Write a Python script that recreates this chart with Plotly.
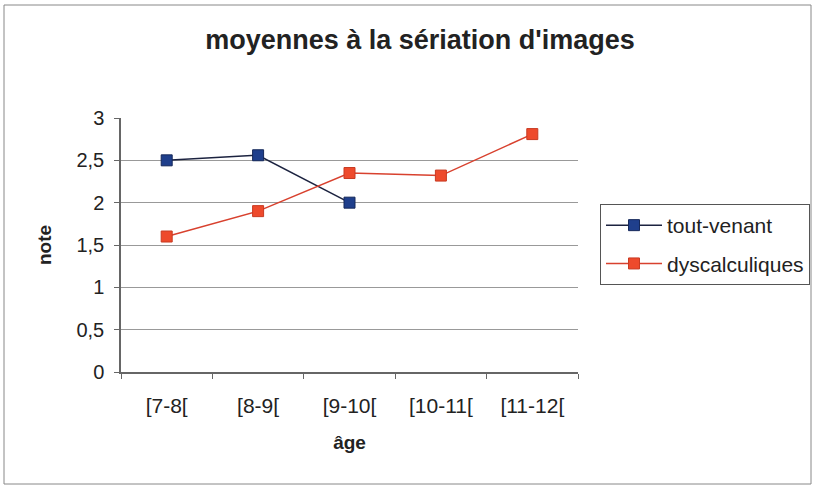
import plotly.graph_objects as go

ages = ["[7-8[", "[8-9[", "[9-10[", "[10-11[", "[11-12["]
tout_venant = [2.5, 2.56, 2.0, None, None]
dyscalculiques = [1.6, 1.9, 2.35, 2.32, 2.81]

W, H = 815, 489
L, R, T, B = 121, 237, 118, 117
pw, ph = W - L - R, H - T - B


def px_x(x):
    return (x - L) / pw


def px_y(y):
    return (H - B - y) / ph


fig = go.Figure()
fig.add_trace(go.Scatter(
    x=ages, y=tout_venant, name="tout-venant", mode="lines+markers", legendgroup="a",
    line=dict(color="#1c2340", width=1.5),
    marker=dict(symbol="square", size=11, color="#1f3f8c", line=dict(color="#15285a", width=1)),
))
fig.add_trace(go.Scatter(
    x=ages, y=dyscalculiques, name="dyscalculiques", mode="lines+markers", legendgroup="b",
    line=dict(color="#d8412e", width=1.5),
    marker=dict(symbol="square", size=11, color="#ee4a2c", line=dict(color="#c83a22", width=1)),
))

fig.update_layout(
    width=W, height=H,
    margin=dict(l=L, r=R, t=T, b=B),
    paper_bgcolor="white", plot_bgcolor="white",
    separators=", ",
    font=dict(family="Liberation Sans, Arial, sans-serif", color="#222"),
    title=dict(text="<b>moyennes à la sériation d'images</b>", x=px_x(420), xref="paper",
               xanchor="center", y=1 - 40 / H, yanchor="middle", font=dict(size=27)),
    showlegend=True,
    legend=dict(xref="container", yref="container", x=600 / W, y=1 - 204 / H,
                xanchor="left", yanchor="top",
                bordercolor="#555", borderwidth=1, bgcolor="white",
                font=dict(size=21), traceorder="grouped", tracegroupgap=8, itemwidth=56),
    shapes=[dict(type="rect", xref="paper", yref="paper",
                 x0=px_x(4), x1=px_x(811), y0=px_y(484), y1=px_y(5),
                 line=dict(color="#888", width=1), layer="below")],
)
fig.update_xaxes(
    range=[-0.5, 4.5], showline=True, linecolor="#666", linewidth=1.5, ticks="outside",
    tickson="boundaries", ticklen=5, tickcolor="#666", showgrid=False, tickfont=dict(size=21),
    ticklabelstandoff=14,
    title=dict(text="<b>âge</b>", font=dict(size=19), standoff=20),
)
fig.update_yaxes(
    range=[0, 3], dtick=0.5, showline=True, linecolor="#666", linewidth=1.5,
    ticks="outside", ticklen=5, tickcolor="#666", showgrid=True, gridcolor="#999",
    gridwidth=1, zeroline=False, tickfont=dict(size=20), ticklabelstandoff=6,
    title=dict(text="<b>note</b>", font=dict(size=19), standoff=20),
)

fig.write_html("out.html", config={"displayModeBar": False},
               post_script="document.body.style.margin='0';")
